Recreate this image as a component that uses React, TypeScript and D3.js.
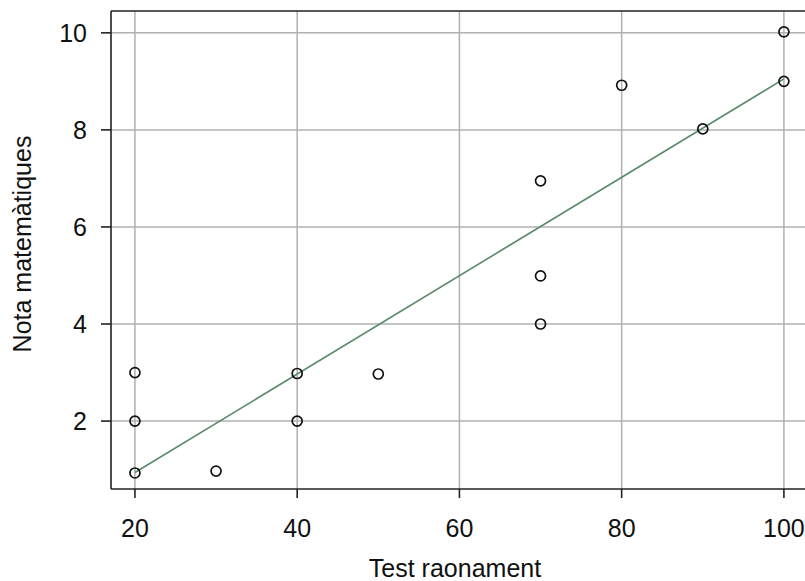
import React from "react";
import * as d3 from "d3";

const testX = [20, 20, 20, 30, 40, 40, 50, 70, 70, 70, 80, 90, 100, 100];
const notaY = [3, 2, 0.93, 0.97, 2.98, 2, 2.97, 6.95, 4.99, 4, 8.92, 8.02, 10.02, 9];
const fitX = [20, 100];
const fitY = [0.94, 9.05];
const xTicks = [20, 40, 60, 80, 100];
const yTicks = [2, 4, 6, 8, 10];
const xLabel = "Test raonament";
const yLabel = "Nota matemàtiques";

export default function App() {
  const W = 805, H = 581;
  const left = 111, right = 805, top = 11, bottom = 489;
  const x = d3.scaleLinear().domain([17.05, 102.6]).range([left, right]);
  const y = d3.scaleLinear().domain([0.6, 10.45]).range([bottom, top]);
  const font = "'Liberation Sans', Arial, sans-serif";
  const fs = 25;
  const line = d3.line<number>().x((d) => x(d)).y((_, i) => y(fitY[i]));
  return (
    <svg width={W} height={H} style={{ position: "absolute", left: 0, top: 0, background: "#fff" }}>
      <rect x={0} y={0} width={W} height={H} fill="#fff" />
      {xTicks.map((t) => (
        <line key={"gx" + t} x1={x(t)} x2={x(t)} y1={top} y2={bottom} stroke="#b0b0b0" strokeWidth={1.5} />
      ))}
      {yTicks.map((t) => (
        <line key={"gy" + t} x1={left} x2={right} y1={y(t)} y2={y(t)} stroke="#b0b0b0" strokeWidth={1.5} />
      ))}
      <path d={line(fitX) || ""} fill="none" stroke="#5a8a6a" strokeWidth={1.6} />
      {testX.map((v, i) => (
        <circle key={"p" + i} cx={x(v)} cy={y(notaY[i])} r={5} fill="none" stroke="#111" strokeWidth={1.7} />
      ))}
      <line x1={left} x2={right} y1={top} y2={top} stroke="#222" strokeWidth={1.6} />
      <line x1={left} x2={right} y1={bottom} y2={bottom} stroke="#222" strokeWidth={1.6} />
      <line x1={left} x2={left} y1={top} y2={bottom} stroke="#222" strokeWidth={1.6} />
      {xTicks.map((t) => (
        <g key={"tx" + t}>
          <line x1={x(t)} x2={x(t)} y1={bottom} y2={bottom + 9} stroke="#222" strokeWidth={1.6} />
          <text x={x(t)} y={537} textAnchor="middle" fontFamily={font} fontSize={fs} fill="#111">{t}</text>
        </g>
      ))}
      {yTicks.map((t) => (
        <g key={"ty" + t}>
          <line x1={left - 10} x2={left} y1={y(t)} y2={y(t)} stroke="#222" strokeWidth={1.6} />
          <text x={87} y={y(t)} dy="0.36em" textAnchor="end" fontFamily={font} fontSize={fs} fill="#111">{t}</text>
        </g>
      ))}
      <text x={(left + right) / 2 - 3} y={577} textAnchor="middle" fontFamily={font} fontSize={fs} fill="#111">{xLabel}</text>
      <text transform={`translate(31, ${(top + bottom) / 2 - 6}) rotate(-90)`} textAnchor="middle" fontFamily={font} fontSize={fs} fill="#111">{yLabel}</text>
    </svg>
  );
}
